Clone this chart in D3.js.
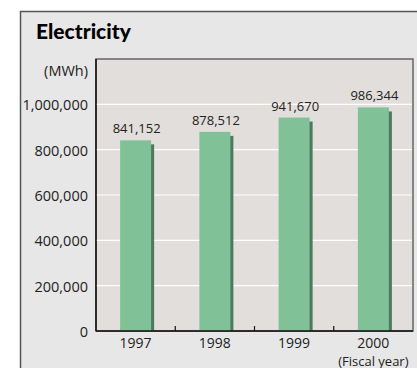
<!DOCTYPE html>
<html>
<head>
<meta charset="utf-8">
<script src="https://cdn.jsdelivr.net/npm/d3@7"></script>
<style>
  html, body { margin: 0; padding: 0; background: #fff; overflow: hidden; }
  svg { display: block; }
  text { font-family: "Open Sans", "Noto Sans", sans-serif; fill: #222; }
</style>
</head>
<body>
<div id="chart"></div>
<script>
const width = 417
const height = 368

// Dados
const years = ["1997", "1998", "1999", "2000"]
const values = [841152, 878512, 941670, 986344]
const yTicks = [0, 200000, 400000, 600000, 800000, 1000000]

const svg = d3.select("#chart")
  .append("svg")
  .attr("width", width)
  .attr("height", height)

// Painel de fundo
svg.append("rect")
  .attr("x", 20.5).attr("y", 11.5)
  .attr("width", width).attr("height", height)
  .attr("fill", "#e7e7e7")
  .attr("stroke", "#555")
  .attr("stroke-width", 1.5)

// Titulo
svg.append("text")
  .attr("x", 36).attr("y", 39)
  .style("font-family", "Lato, 'Open Sans', sans-serif")
  .style("font-size", "21px")
  .style("font-weight", "900")
  .style("fill", "#000")
  .text("Electricity")

const plot = { left: 96, right: 413, top: 59, bottom: 331 }

const x = d3.scaleBand()
  .domain(years)
  .range([plot.left, plot.right])

const y = d3.scaleLinear()
  .domain([0, 1200000])
  .range([plot.bottom, plot.top])

// Area do grafico
svg.append("rect")
  .attr("x", plot.left).attr("y", plot.top)
  .attr("width", plot.right - plot.left)
  .attr("height", plot.bottom - plot.top)
  .attr("fill", "#e2dedc")
  .attr("stroke", "#666")
  .attr("stroke-width", 1.5)

// Linhas de grade
svg.selectAll(".grid")
  .data(yTicks.filter(d => d > 0))
  .enter()
  .append("line")
  .attr("x1", plot.left).attr("x2", plot.right - 1)
  .attr("y1", d => y(d)).attr("y2", d => y(d))
  .attr("stroke", "#fff")
  .attr("stroke-width", 1.2)

// Rotulos do eixo y
svg.selectAll(".ylab")
  .data(yTicks)
  .enter()
  .append("text")
  .attr("x", 88)
  .attr("y", d => y(d) + 6)
  .attr("text-anchor", "end")
  .style("font-size", "14.5px")
  .text(d => d3.format(",")(d))

svg.append("text")
  .attr("x", 88).attr("y", 76)
  .attr("text-anchor", "end")
  .style("font-size", "14.5px")
  .text("(MWh)")

const barW = 31

// Sombra das barras
svg.selectAll(".shadow")
  .data(values)
  .enter()
  .append("rect")
  .attr("x", (d, i) => x(years[i]) + x.bandwidth() / 2 - barW / 2 + 3)
  .attr("y", d => y(d) + 4)
  .attr("width", barW)
  .attr("height", d => plot.bottom - y(d) - 4)
  .attr("fill", "#4d7a5c")

// Barras
svg.selectAll(".bar")
  .data(values)
  .enter()
  .append("rect")
  .attr("x", (d, i) => x(years[i]) + x.bandwidth() / 2 - barW / 2)
  .attr("y", d => y(d))
  .attr("width", barW)
  .attr("height", d => plot.bottom - y(d))
  .attr("fill", "#80c197")

// Valores
svg.selectAll(".val")
  .data(values)
  .enter()
  .append("text")
  .attr("x", (d, i) => x(years[i]) + x.bandwidth() / 2 + 1)
  .attr("y", d => y(d) - 7)
  .attr("text-anchor", "middle")
  .style("font-size", "13px")
  .text(d => d3.format(",")(d))

// Eixos
svg.append("line")
  .attr("x1", plot.left).attr("x2", plot.left)
  .attr("y1", plot.top).attr("y2", plot.bottom)
  .attr("stroke", "#111").attr("stroke-width", 1.5)
svg.append("line")
  .attr("x1", plot.left).attr("x2", plot.right)
  .attr("y1", plot.bottom).attr("y2", plot.bottom)
  .attr("stroke", "#111").attr("stroke-width", 1.5)

// Marcas entre categorias
svg.selectAll(".tick")
  .data(years.slice(1))
  .enter()
  .append("line")
  .attr("x1", d => x(d)).attr("x2", d => x(d))
  .attr("y1", plot.bottom).attr("y2", plot.bottom - 5)
  .attr("stroke", "#111").attr("stroke-width", 1.2)

// Rotulos do eixo x
svg.selectAll(".xlab")
  .data(years)
  .enter()
  .append("text")
  .attr("x", d => x(d) + x.bandwidth() / 2)
  .attr("y", 347.5)
  .attr("text-anchor", "middle")
  .style("font-size", "14px")
  .text(d => d)

svg.append("text")
  .attr("x", x("2000") + x.bandwidth() / 2)
  .attr("y", 365.5)
  .attr("text-anchor", "middle")
  .style("font-size", "13px")
  .text("(Fiscal year)")
</script>
</body>
</html>
